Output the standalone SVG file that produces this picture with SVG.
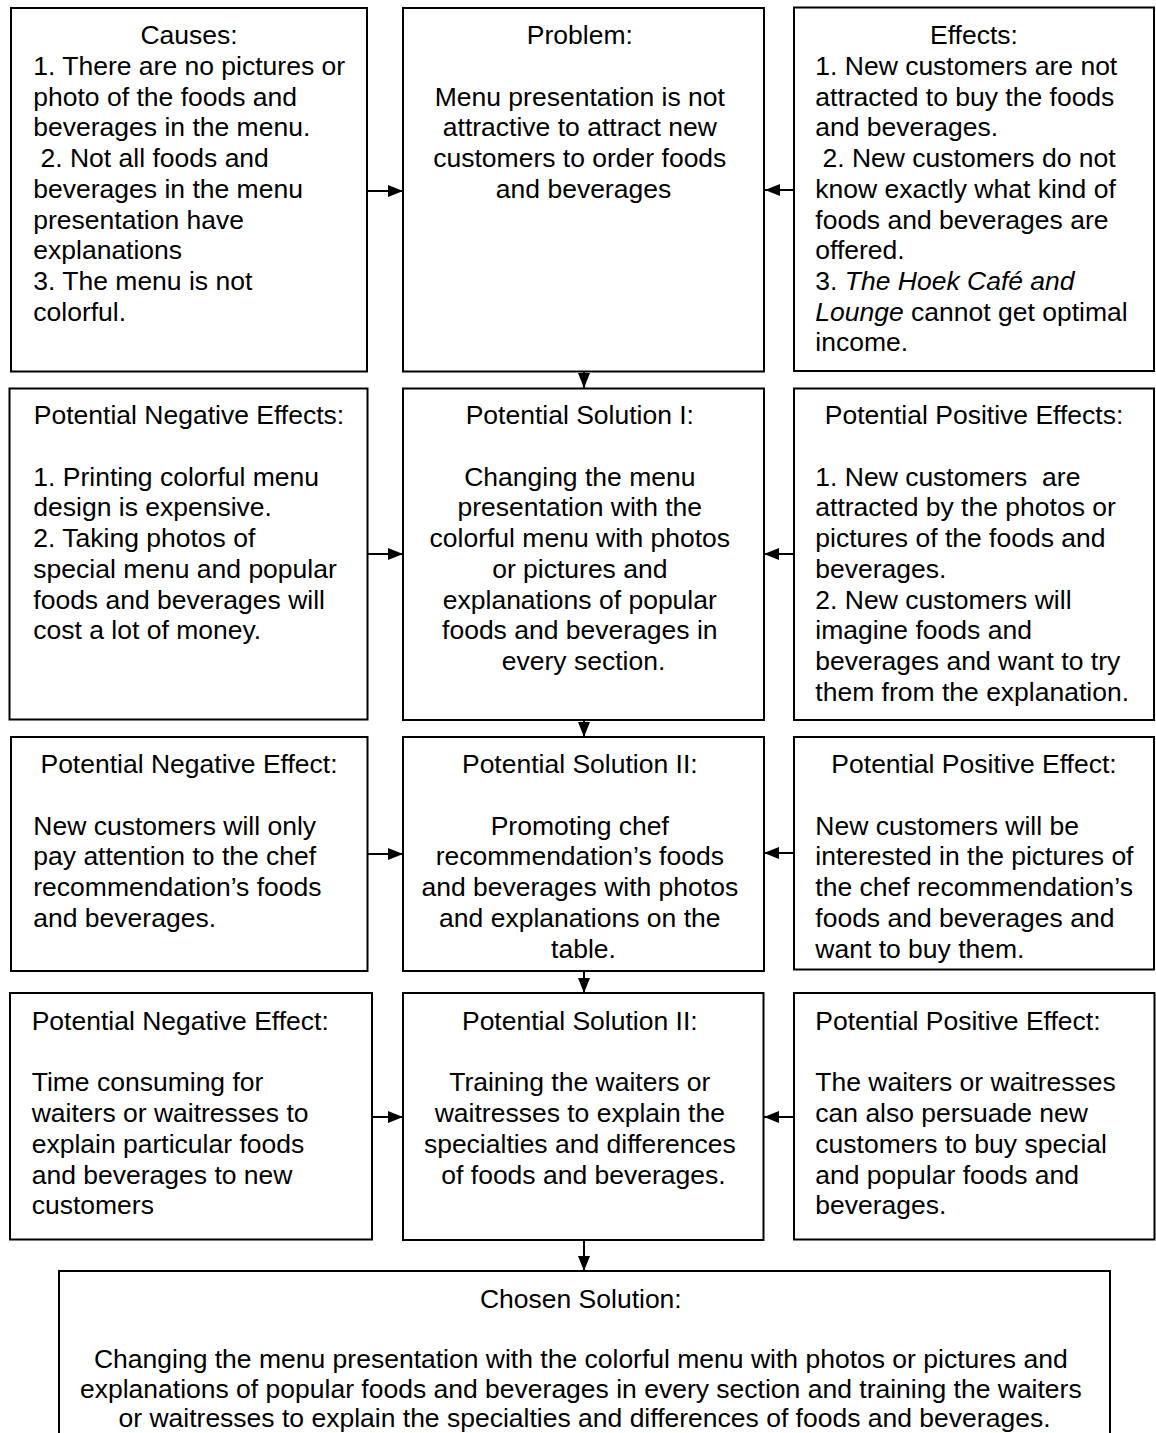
<svg xmlns="http://www.w3.org/2000/svg" width="1156" height="1433" viewBox="0 0 1156 1433">
<defs>
<style>
.box{fill:#fff;stroke:#000;stroke-width:2}
.t{font-family:"Liberation Sans",Arial,Helvetica,sans-serif;font-size:26.5px;fill:#000}
.c{text-anchor:middle}
.conn{stroke:#000;stroke-width:2;fill:none}
</style>
<marker id="ah" markerUnits="userSpaceOnUse" markerWidth="15" markerHeight="12" refX="15" refY="6" orient="auto">
<path d="M0,0 L15,6 L0,12 z" fill="#000"/>
</marker>
</defs>
<rect width="1156" height="1433" fill="#fff"/>

<g id="causes">
<rect class="box" x="11" y="8" width="356" height="363.5"/>
<text class="t c" x="189" y="44.3">Causes:</text>
<text class="t">
<tspan x="33.3" y="75">1. There are no pictures or</tspan>
<tspan x="33.3" y="105.7">photo of the foods and</tspan>
<tspan x="33.3" y="136.4">beverages in the menu.</tspan>
<tspan x="40.5" y="167.1">2. Not all foods and</tspan>
<tspan x="33.3" y="197.8">beverages in the menu</tspan>
<tspan x="33.3" y="228.5">presentation have</tspan>
<tspan x="33.3" y="259.2">explanations</tspan>
<tspan x="33.3" y="289.9">3. The menu is not</tspan>
<tspan x="33.3" y="320.6">colorful.</tspan>
</text>
</g>

<g id="problem">
<rect class="box" x="403" y="8" width="361" height="363.5"/>
<text class="t c">
<tspan x="583.5" y="44.3">Problem:</tspan>
<tspan x="583.5" y="105.7">Menu presentation is not</tspan>
<tspan x="583.5" y="136.4">attractive to attract new</tspan>
<tspan x="583.5" y="167.1">customers to order foods</tspan>
<tspan x="583.5" y="197.8">and beverages</tspan>
</text>
</g>

<g id="effects">
<rect class="box" x="794" y="7.5" width="360" height="363.5"/>
<text class="t c" x="974" y="44.3">Effects:</text>
<text class="t">
<tspan x="815.3" y="75">1. New customers are not</tspan>
<tspan x="815.3" y="105.7">attracted to buy the foods</tspan>
<tspan x="815.3" y="136.4">and beverages.</tspan>
<tspan x="822.5" y="167.1">2. New customers do not</tspan>
<tspan x="815.3" y="197.8">know exactly what kind of</tspan>
<tspan x="815.3" y="228.5">foods and beverages are</tspan>
<tspan x="815.3" y="259.2">offered.</tspan>
<tspan x="815.3" y="289.9">3. <tspan font-style="italic">The Hoek Café and</tspan></tspan>
<tspan x="815.3" y="320.6" font-style="italic">Lounge</tspan><tspan> cannot get optimal</tspan>
<tspan x="815.3" y="351.3">income.</tspan>
</text>
</g>

<g id="neg1">
<rect class="box" x="9.5" y="388.5" width="358" height="331"/>
<text class="t c" x="189" y="424.3">Potential Negative Effects:</text>
<text class="t">
<tspan x="33.3" y="485.7">1. Printing colorful menu</tspan>
<tspan x="33.3" y="516.4">design is expensive.</tspan>
<tspan x="33.3" y="547.1">2. Taking photos of</tspan>
<tspan x="33.3" y="577.8">special menu and popular</tspan>
<tspan x="33.3" y="608.5">foods and beverages will</tspan>
<tspan x="33.3" y="639.2">cost a lot of money.</tspan>
</text>
</g>

<g id="sol1">
<rect class="box" x="403" y="388.5" width="361" height="331.5"/>
<text class="t c">
<tspan x="583.5" y="424.3">Potential Solution I:</tspan>
<tspan x="583.5" y="485.7">Changing the menu</tspan>
<tspan x="583.5" y="516.4">presentation with the</tspan>
<tspan x="583.5" y="547.1">colorful menu with photos</tspan>
<tspan x="583.5" y="577.8">or pictures and</tspan>
<tspan x="583.5" y="608.5">explanations of popular</tspan>
<tspan x="583.5" y="639.2">foods and beverages in</tspan>
<tspan x="583.5" y="669.9">every section.</tspan>
</text>
</g>

<g id="pos1">
<rect class="box" x="794" y="388.5" width="360" height="331.5"/>
<text class="t c" x="974" y="424.3">Potential Positive Effects:</text>
<text class="t" xml:space="preserve"><tspan x="815.3" y="485.7">1. New customers  are</tspan><tspan x="815.3" y="516.4">attracted by the photos or</tspan><tspan x="815.3" y="547.1">pictures of the foods and</tspan><tspan x="815.3" y="577.8">beverages.</tspan><tspan x="815.3" y="608.5">2. New customers will</tspan><tspan x="815.3" y="639.2">imagine foods and</tspan><tspan x="815.3" y="669.9">beverages and want to try</tspan><tspan x="815.3" y="700.6">them from the explanation.</tspan></text>
</g>

<g id="neg2">
<rect class="box" x="11" y="737" width="356.5" height="234"/>
<text class="t c" x="189" y="773.3">Potential Negative Effect:</text>
<text class="t">
<tspan x="33.3" y="834.7">New customers will only</tspan>
<tspan x="33.3" y="865.4">pay attention to the chef</tspan>
<tspan x="33.3" y="896.1">recommendation’s foods</tspan>
<tspan x="33.3" y="926.8">and beverages.</tspan>
</text>
</g>

<g id="sol2">
<rect class="box" x="403" y="737" width="361" height="234"/>
<text class="t c">
<tspan x="583.5" y="773.3">Potential Solution II:</tspan>
<tspan x="583.5" y="834.7">Promoting chef</tspan>
<tspan x="583.5" y="865.4">recommendation’s foods</tspan>
<tspan x="583.5" y="896.1">and beverages with photos</tspan>
<tspan x="583.5" y="926.8">and explanations on the</tspan>
<tspan x="583.5" y="957.5">table.</tspan>
</text>
</g>

<g id="pos2">
<rect class="box" x="794" y="737" width="360" height="232.5"/>
<text class="t c" x="974" y="773.3">Potential Positive Effect:</text>
<text class="t">
<tspan x="815.3" y="834.7">New customers will be</tspan>
<tspan x="815.3" y="865.4">interested in the pictures of</tspan>
<tspan x="815.3" y="896.1">the chef recommendation’s</tspan>
<tspan x="815.3" y="926.8">foods and beverages and</tspan>
<tspan x="815.3" y="957.5">want to buy them.</tspan>
</text>
</g>

<g id="neg3">
<rect class="box" x="10" y="993" width="362" height="246.5"/>
<text class="t">
<tspan x="31.7" y="1030">Potential Negative Effect:</tspan>
<tspan x="31.7" y="1091.4">Time consuming for</tspan>
<tspan x="31.7" y="1122.1">waiters or waitresses to</tspan>
<tspan x="31.7" y="1152.8">explain particular foods</tspan>
<tspan x="31.7" y="1183.5">and beverages to new</tspan>
<tspan x="31.7" y="1214.2">customers</tspan>
</text>
</g>

<g id="sol3">
<rect class="box" x="403" y="993" width="360.5" height="247"/>
<text class="t c">
<tspan x="583.5" y="1030">Potential Solution II:</tspan>
<tspan x="583.5" y="1091.4">Training the waiters or</tspan>
<tspan x="583.5" y="1122.1">waitresses to explain the</tspan>
<tspan x="583.5" y="1152.8">specialties and differences</tspan>
<tspan x="583.5" y="1183.5">of foods and beverages.</tspan>
</text>
</g>

<g id="pos3">
<rect class="box" x="794" y="993" width="360.5" height="246.5"/>
<text class="t">
<tspan x="815.3" y="1030">Potential Positive Effect:</tspan>
<tspan x="815.3" y="1091.4">The waiters or waitresses</tspan>
<tspan x="815.3" y="1122.1">can also persuade new</tspan>
<tspan x="815.3" y="1152.8">customers to buy special</tspan>
<tspan x="815.3" y="1183.5">and popular foods and</tspan>
<tspan x="815.3" y="1214.2">beverages.</tspan>
</text>
</g>

<g id="chosen">
<path class="box" d="M59,1440 V1271 H1110 V1440"/>
<text class="t c">
<tspan x="584.5" y="1307.5">Chosen Solution:</tspan>
<tspan x="584.5" y="1368">Changing the menu presentation with the colorful menu with photos or pictures and</tspan>
<tspan x="584.5" y="1397.5">explanations of popular foods and beverages in every section and training the waiters</tspan>
<tspan x="584.5" y="1426.5">or waitresses to explain the specialties and differences of foods and beverages.</tspan>
</text>
</g>

<g id="connectors" class="conn">
<line x1="367" y1="191" x2="403" y2="191" marker-end="url(#ah)"/>
<line x1="794" y1="190" x2="765" y2="190" marker-end="url(#ah)"/>
<line x1="367.5" y1="554" x2="403" y2="554" marker-end="url(#ah)"/>
<line x1="794" y1="554" x2="764" y2="554" marker-end="url(#ah)"/>
<line x1="367.5" y1="854" x2="403" y2="854" marker-end="url(#ah)"/>
<line x1="794" y1="853" x2="764" y2="853" marker-end="url(#ah)"/>
<line x1="372" y1="1117" x2="403" y2="1117" marker-end="url(#ah)"/>
<line x1="794" y1="1117" x2="764" y2="1117" marker-end="url(#ah)"/>
<line x1="584" y1="372" x2="584" y2="388" marker-end="url(#ah)"/>
<line x1="584" y1="720" x2="584" y2="737" marker-end="url(#ah)"/>
<line x1="584" y1="971" x2="584" y2="993" marker-end="url(#ah)"/>
<line x1="584" y1="1240" x2="584" y2="1271" marker-end="url(#ah)"/>
</g>
</svg>
